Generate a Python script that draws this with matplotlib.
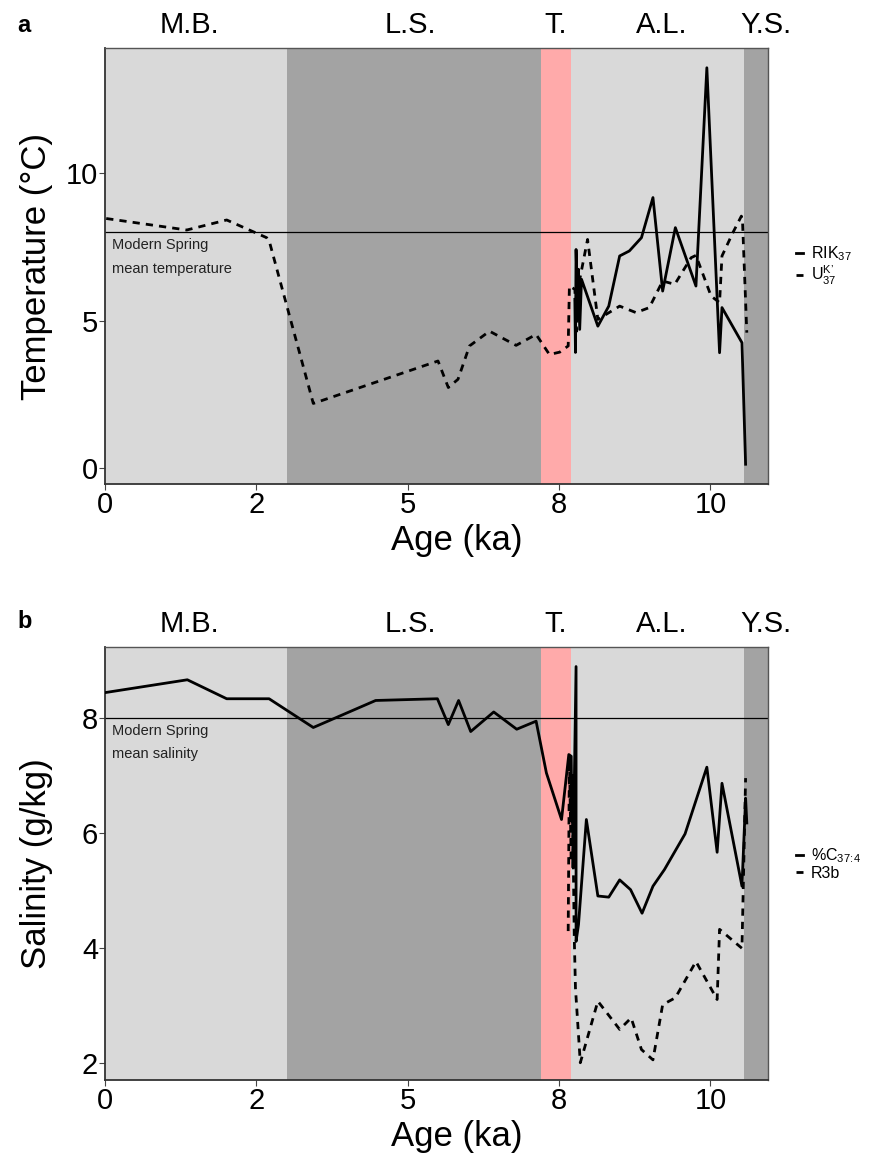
import matplotlib
matplotlib.use("Agg")
import matplotlib.pyplot as plt

plt.rcParams['font.family'] = ['Liberation Sans Narrow', 'Liberation Sans', 'DejaVu Sans']
plt.rcParams['mathtext.fontset'] = 'custom'
plt.rcParams['mathtext.rm'] = 'Liberation Sans'
plt.rcParams['mathtext.it'] = 'Liberation Sans'

# periods (ka)
period_names = ['M.B.', 'L.S.', 'T.', 'A.L.', 'Y.S.']
period_start = [0.0, 3.0, 7.2, 7.7, 10.56]
period_end = [3.0, 7.2, 7.7, 10.56, 10.95]
period_colors = ['#d9d9d9', '#a3a3a3', '#ffaaaa', '#d9d9d9', '#a3a3a3']
label_x = [1.4, 5.05, 7.45, 9.2, 10.92]

# temperature - RIK37 (solid)
rik_age = [7.76, 7.77, 7.78, 7.81, 7.82, 7.84, 7.87, 8.14, 8.32, 8.50, 8.66, 8.86,
           9.05, 9.21, 9.42, 9.76, 9.94, 10.15, 10.19, 10.52, 10.58]
rik_t = [5.73, 3.93, 7.42, 5.05, 6.75, 4.71, 6.41, 4.82, 5.50, 7.20, 7.37, 7.82,
         9.18, 6.01, 8.16, 6.18, 13.58, 3.92, 5.45, 4.26, 0.14]

# temperature - UK'37 (dashed)
uk_age = [0.02, 1.35, 2.01, 2.67, 2.72, 3.44, 5.50, 5.67, 5.83, 6.02, 6.35, 6.79,
          7.12, 7.34, 7.51, 7.65, 7.67, 7.76, 7.79, 7.84, 7.97, 8.14, 8.50, 8.77,
          8.99, 9.21, 9.41, 9.68, 9.76, 10.01, 10.15, 10.19, 10.37, 10.51, 10.53, 10.60]
uk_t = [8.47, 8.08, 8.42, 7.82, 7.65, 2.20, 3.64, 2.74, 3.02, 4.15, 4.65, 4.17,
        4.54, 3.86, 3.94, 4.15, 6.18, 6.07, 4.65, 6.40, 7.76, 5.05, 5.50, 5.28,
        5.45, 6.35, 6.24, 7.14, 7.22, 5.84, 5.62, 7.20, 7.99, 8.55, 8.33, 4.60]

# salinity - %C37:4 (solid)
c37_age = [0.02, 1.36, 2.01, 2.71, 3.44, 4.47, 5.49, 5.67, 5.84, 6.04, 6.42, 6.80,
           7.12, 7.29, 7.54, 7.66, 7.70, 7.71, 7.72, 7.73, 7.78, 7.78, 7.82, 7.95,
           8.14, 8.32, 8.50, 8.68, 8.87, 9.05, 9.24, 9.58, 9.94, 10.11, 10.19,
           10.52, 10.58, 10.60]
c37_s = [8.45, 8.67, 8.34, 8.34, 7.84, 8.31, 8.34, 7.89, 8.31, 7.77, 8.11, 7.81,
         7.95, 7.05, 6.24, 7.37, 7.34, 6.2, 7.0, 5.40, 8.90, 4.12, 4.41, 6.24,
         4.91, 4.89, 5.19, 5.02, 4.61, 5.08, 5.37, 5.99, 7.15, 5.67, 6.87,
         5.08, 6.61, 6.18]

# salinity - R3b (dashed)
r3b_age = [7.65, 7.67, 7.70, 7.72, 7.75, 7.77, 7.85, 8.14, 8.50, 8.69, 8.86, 9.05,
           9.21, 9.42, 9.76, 10.11, 10.15, 10.52, 10.58]
r3b_s = [4.30, 7.31, 5.5, 6.8, 4.2, 3.31, 2.01, 3.08, 2.59, 2.79, 2.24, 2.06,
         3.02, 3.14, 3.77, 3.11, 4.33, 4.00, 6.96]

modern_temp = 8
modern_sal = 8

W, H = 869, 1160
fig = plt.figure(figsize=(W / 100, H / 100), dpi=100)
ax1 = fig.add_axes([105 / W, 1 - 484 / H, 663 / W, 436 / H])
ax2 = fig.add_axes([105 / W, 1 - 1080 / H, 663 / W, 433 / H])

dash = (0, (2.6, 2.2))


def setup(ax, ylim, yticks, ylabel, modern, modern_txt):
    for s, e, c in zip(period_start, period_end, period_colors):
        ax.axvspan(s, e, color=c, lw=0, zorder=0)
    for name, lx in zip(period_names, label_x):
        ax.text(lx, 1.053, name, transform=ax.get_xaxis_transform(),
                ha='center', va='center', fontsize=21)
    ax.axhline(modern, color='black', lw=0.9, zorder=2)
    ax.text(0.12, modern - 0.18 * (ylim[1] - ylim[0]) / 14.8, modern_txt,
            fontsize=10.5, va='top', ha='left', linespacing=1.9,
            family=['Liberation Sans', 'DejaVu Sans'], color='#222222')
    ax.set_xlim(0, 10.95)
    ax.set_ylim(*ylim)
    ax.set_xticks([0, 2.5, 5, 7.5, 10])
    ax.set_xticklabels(['0', '2', '5', '8', '10'])
    ax.set_yticks(yticks)
    ax.tick_params(labelsize=21, length=4, color='#444444', pad=1)
    ax.set_xlabel('Age (ka)', fontsize=25)
    ax.xaxis.set_label_coords((457 - 105) / 663, -0.092)
    ax.set_ylabel(ylabel, fontsize=25)
    ax.yaxis.set_label_coords((53 - 105) / 663, 0.5)
    for side in ['top', 'right']:
        ax.spines[side].set_color('#555555')
        ax.spines[side].set_linewidth(1.0)
    for side in ['left', 'bottom']:
        ax.spines[side].set_color('#333333')
        ax.spines[side].set_linewidth(1.3)


setup(ax1, (-0.53, 14.25), [0, 5, 10], 'Temperature (°C)', modern_temp,
      'Modern Spring\nmean temperature')
ax1.plot(rik_age, rik_t, color='black', lw=2.0, label='RIK$_{37}$', zorder=3)
ax1.plot(uk_age, uk_t, color='black', lw=2.0, ls=dash,
         label="U$^{\\mathrm{K\u2019}}_{37}$", zorder=3)

setup(ax2, (1.71, 9.24), [2, 4, 6, 8], 'Salinity (g/kg)', modern_sal,
      'Modern Spring\nmean salinity')
ax2.plot(c37_age, c37_s, color='black', lw=2.0, label=r'%C$_{37\!:\!4}$', zorder=3)
ax2.plot(r3b_age, r3b_s, color='black', lw=2.0, ls=dash, label='R3b', zorder=3)

for ax in (ax1, ax2):
    ax.legend(loc='center left', bbox_to_anchor=(1.03, 0.5), frameon=False,
              fontsize=11.5, handlelength=0.45, handletextpad=0.5, labelspacing=0.05,
              borderpad=0)

fig.text(17 / W, 1 - 25 / H, 'a', fontsize=17, fontweight='bold', va='center',
         family=['Liberation Sans', 'DejaVu Sans'])
fig.text(17 / W, 1 - 622 / H, 'b', fontsize=17, fontweight='bold', va='center',
         family=['Liberation Sans', 'DejaVu Sans'])

fig.savefig('out.png', dpi=100)
